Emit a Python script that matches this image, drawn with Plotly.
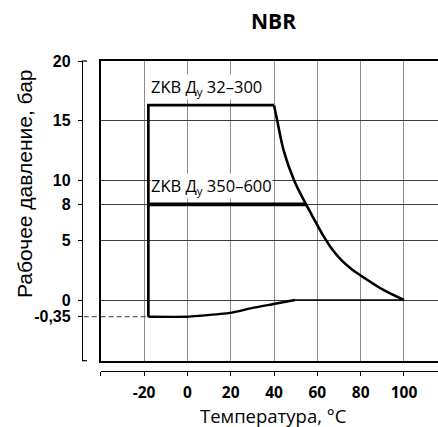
import plotly.graph_objects as go

# ---------------- data ----------------
# temperature axis ticks (°C)
x_ticks = [-40, -20, 0, 20, 40, 60, 80, 100, 120]
x_tick_labels = ["", "-20", "0", "20", "40", "60", "80", "100", "120"]

# pressure axis ticks (bar)
y_ticks = [20, 15, 10, 8, 5, 0, -0.35]
y_tick_labels = ["20", "15", "10", "8", "5", "0", "-0,35"]
y_grid = [0, 5, 8, 10, 15]

# ZKB Ду 32–300 envelope
t_min = -18          # lower temperature limit
p_max_32 = 16.3      # max pressure of DN 32–300
t_knee = 40          # start of the decline

# decline curve (temperature, pressure)
curve_t = [40, 41.5, 44.4, 49.3, 54.8, 59, 63, 67, 71, 76, 81.3, 90.5, 100]
curve_p = [16.3, 15, 12.55, 10, 8, 6.6, 5.3, 4.2, 3.35, 2.55, 1.9, 0.84, 0]

# vacuum limit curve (temperature, pressure)
vac_t = [-18, 0, 5.8, 19.7, 29.7, 39.8, 49.7]
vac_p = [-0.35, -0.35, -0.33, -0.27, -0.17, -0.084, 0]

# zero pressure line end
zero_t = [49.7, 100]
zero_p = [0, 0]

# ZKB Ду 350–600
t_350 = [-18, 54.8]
p_350 = [8, 8]

labels = ["ZKB Д<sub>у</sub> 32–300", "ZKB Д<sub>у</sub> 350–600"]
label_pos_t = [-17.3, -17.3]
label_pos_p = [17.8, 9.55]

# the vacuum region is drawn magnified on the chart
VAC_SCALE = 4.0


def disp(p):
    return p if p >= 0 else p * VAC_SCALE


def dlist(ps):
    return [disp(p) for p in ps]


# ---------------- layout geometry ----------------
W, H = 438, 427
ML, MR, MT, MB = 82, 0, 61, 56
PW, PH = W - ML - MR, H - MT - MB
x_dom0 = (100.7 - ML) / PW
y_dom0 = (371 - 360.7) / PH
x_range = [-40, 115.7]
y_range = [-5.08, 20]

fig = go.Figure()

black = "#000000"

# rectangle left + top side
fig.add_trace(go.Scatter(
    x=[t_min, t_min, t_knee], y=dlist([-0.35, p_max_32, p_max_32]),
    mode="lines", line=dict(color=black, width=2.7), hoverinfo="skip", showlegend=False))
# decline curve
fig.add_trace(go.Scatter(
    x=curve_t, y=dlist(curve_p), mode="lines",
    line=dict(color=black, width=2.6, shape="spline", smoothing=1.0),
    hoverinfo="skip", showlegend=False))
# vacuum curve
fig.add_trace(go.Scatter(
    x=vac_t, y=dlist(vac_p), mode="lines",
    line=dict(color=black, width=2.4, shape="spline", smoothing=0.6),
    hoverinfo="skip", showlegend=False))
# zero line piece
fig.add_trace(go.Scatter(
    x=zero_t, y=dlist(zero_p), mode="lines",
    line=dict(color=black, width=1.6), hoverinfo="skip", showlegend=False))
# DN 350-600 line
fig.add_trace(go.Scatter(
    x=t_350, y=dlist(p_350), mode="lines",
    line=dict(color=black, width=3.6), hoverinfo="skip", showlegend=False))
# dashed vacuum reference line inside the plot
fig.add_trace(go.Scatter(
    x=[x_range[0], t_min], y=dlist([-0.35, -0.35]), mode="lines",
    line=dict(color="#333333", width=1, dash="5px,3px"), hoverinfo="skip", showlegend=False))

# helper trace so the separated axes are drawn
fig.add_trace(go.Scatter(x=[x_range[0]], y=[y_range[1]], xaxis="x2", yaxis="y2",
                         mode="none", hoverinfo="skip", showlegend=False))

for txt, tx, ty in zip(labels, label_pos_t, label_pos_p):
    fig.add_annotation(x=tx, y=ty, xref="x", yref="y", text=txt, showarrow=False,
                       xanchor="left", yanchor="middle", bgcolor="white", borderpad=0,
                       font=dict(family="Open Sans", size=16.5, color=black))

# dashed piece outside the plot area (between separated y axis and frame)
fig.add_shape(type="line", xref="paper", yref="y", x0=0.005, x1=x_dom0,
              y0=disp(-0.35), y1=disp(-0.35), line=dict(color="#333333", width=1, dash="5px,3px"))
# small end stubs of the separated y axis
fig.add_shape(type="line", xref="paper", yref="paper", x0=0, x1=5 / PW, y0=1, y1=1,
              line=dict(color=black, width=1.2))
fig.add_shape(type="line", xref="paper", yref="paper", x0=0, x1=5 / PW, y0=y_dom0, y1=y_dom0,
              line=dict(color=black, width=1.2))

# titles
fig.add_annotation(xref="paper", yref="paper", x=(273 - ML) / PW, y=1 + (MT - 21) / PH,
                   text="<b>NBR</b>", showarrow=False, xanchor="center", yanchor="middle",
                   font=dict(family="Open Sans", size=21, color=black))
fig.add_annotation(xref="paper", yref="paper", x=(273 - ML) / PW, y=-(415 - (H - MB)) / PH,
                   text="Температура, °C", showarrow=False, xanchor="center", yanchor="middle",
                   font=dict(family="Open Sans", size=18.5, color=black))
fig.add_annotation(xref="paper", yref="paper", x=(24 - ML) / PW, y=((H - MB) - 184) / PH,
                   text="Рабочее давление, бар", showarrow=False, textangle=-90,
                   xanchor="center", yanchor="middle",
                   font=dict(family="Liberation Sans", size=21, color=black))

fig.update_layout(
    width=W, height=H,
    margin=dict(l=ML, r=MR, t=MT, b=MB, pad=0, autoexpand=False),
    paper_bgcolor="white", plot_bgcolor="white",
    showlegend=False,
    xaxis=dict(domain=[x_dom0, 1], range=x_range, tickvals=x_ticks[1:-1], showticklabels=False,
               ticks="", showgrid=True, gridcolor="#8c8c8c", gridwidth=1, zeroline=False,
               showline=True, mirror=True, linecolor=black, linewidth=2, fixedrange=True,
               automargin=False),
    yaxis=dict(domain=[y_dom0, 1], range=y_range, tickvals=y_grid, showticklabels=False,
               ticks="", showgrid=True, gridcolor="#3c3c3c", gridwidth=1, zeroline=False,
               showline=True, mirror=False, linecolor=black, linewidth=2, fixedrange=True,
               automargin=False),
    xaxis2=dict(overlaying="x", anchor="free", position=0, side="bottom", range=x_range,
                tickvals=x_ticks, ticktext=x_tick_labels, showgrid=False, zeroline=False,
                showline=True, linecolor=black, linewidth=1.3, ticks="outside", ticklen=4,
                tickwidth=1, tickcolor=black, ticklabelstandoff=3, automargin=False,
                tickfont=dict(family="Open Sans", size=15.5, color=black, weight="bold"),
                fixedrange=True),
    yaxis2=dict(overlaying="y", anchor="free", position=0, side="left", range=y_range,
                tickvals=dlist(y_ticks), ticktext=y_tick_labels, showgrid=False, zeroline=False,
                showline=True, linecolor=black, linewidth=1.3, ticks="outside", ticklen=4,
                tickwidth=1, tickcolor=black, ticklabelstandoff=4, automargin=False,
                tickfont=dict(family="Liberation Sans", size=16, color=black, weight="bold"),
                fixedrange=True),
)

fig.write_html(
    "out.html",
    config={"displayModeBar": False},
    post_script="document.body.style.margin='0';document.body.style.overflow='hidden';",
)
